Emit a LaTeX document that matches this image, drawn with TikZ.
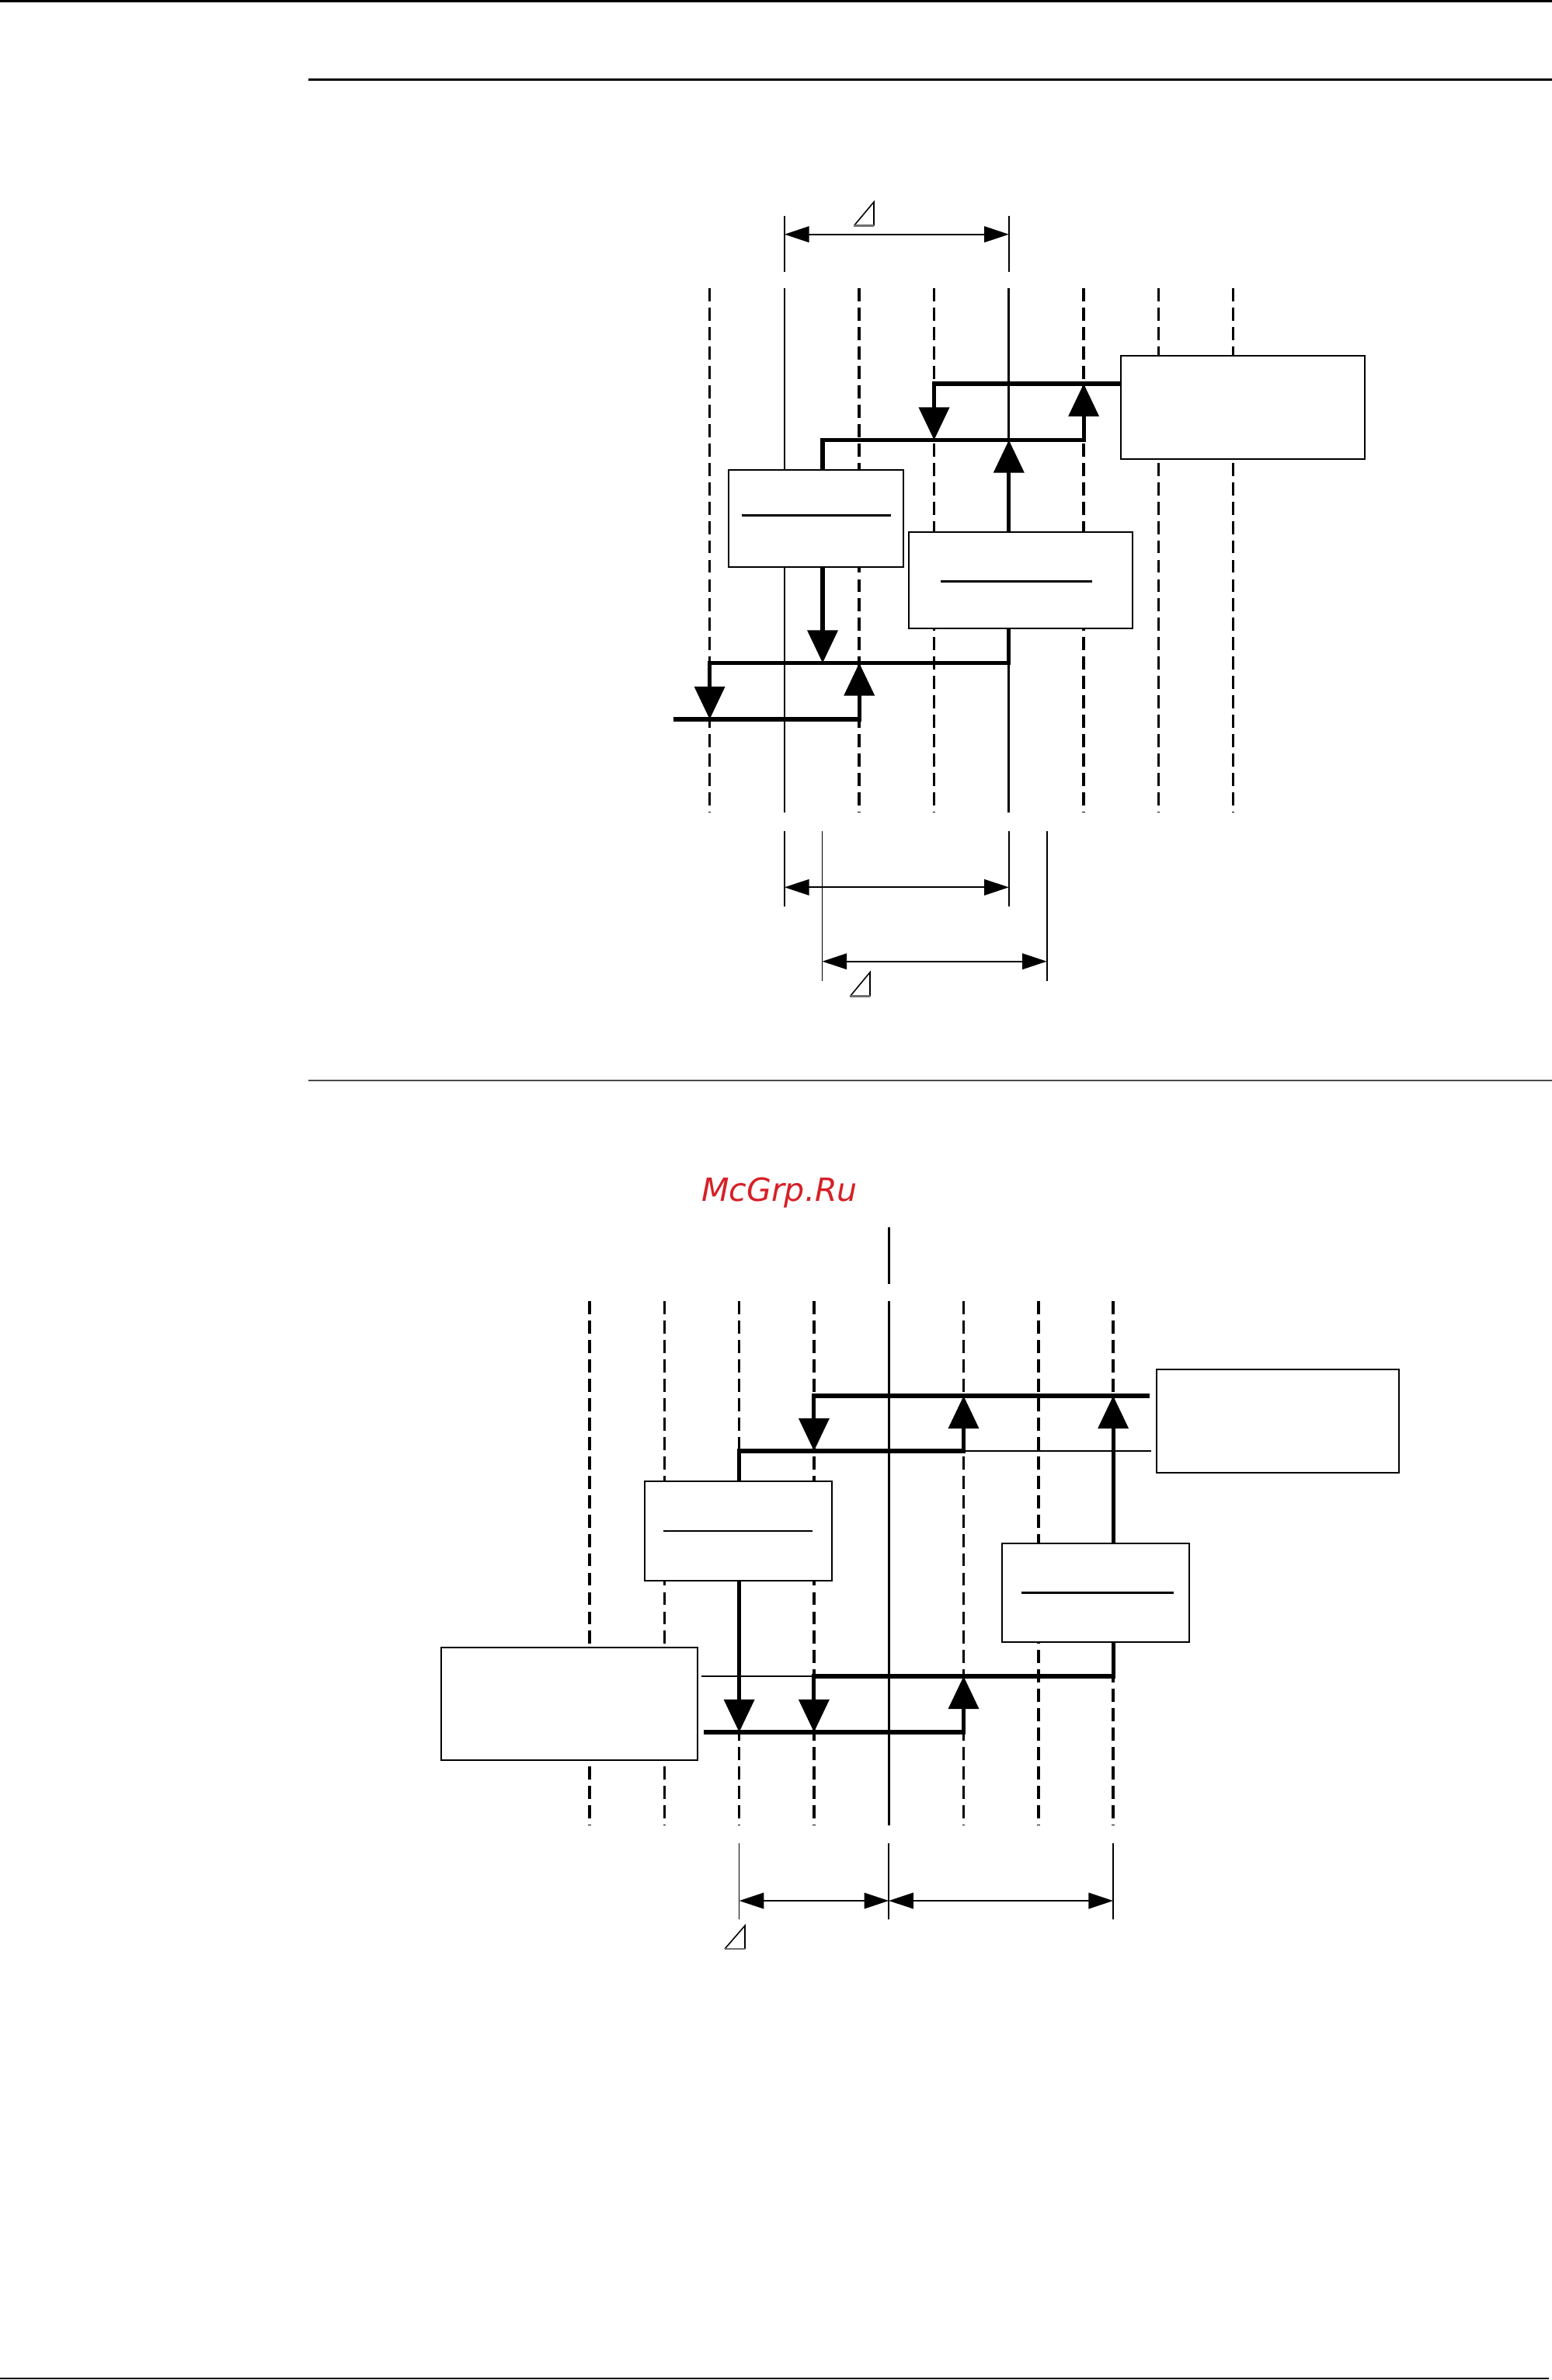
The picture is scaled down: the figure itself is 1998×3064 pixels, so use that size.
\documentclass[tikz,border=0pt]{standalone}
\usepackage{fontspec}
\usepackage{tikz}
\usetikzlibrary{arrows.meta,calc}
\newfontfamily\wmfont{DejaVu Sans}
\definecolor{wmred}{HTML}{D62027}
\definecolor{rulegray}{HTML}{4A4A4A}
\definecolor{wedgegray}{HTML}{6E6E6E}

\begin{document}
\begin{tikzpicture}[x=0.01cm,y=-0.01cm,
  every node/.style={inner sep=0pt,outer sep=0pt},
  box/.style={rectangle,draw=black,line width=0.75pt,fill=white},
  lane/.style={line width=1pt,dash pattern=on 4.8pt off 2.3pt},
  refline/.style={line width=0.8pt},
  bus/.style={line width=1.45pt},
  arrow/.style={bus,-{Triangle[length=12pt,width=11pt]}},
  tap/.style={line width=0.65pt},
  divider/.style={line width=0.65pt},
  dimline/.style={line width=0.6pt,{Triangle[length=9pt,width=5.8pt]}-{Triangle[length=9pt,width=5.8pt]}},
  extline/.style={line width=0.5pt},
  wedge/.style={line width=0.45pt,line join=miter},
  wedgebase/.style={line width=0.8pt,wedgegray}
]
\useasboundingbox (0,0) rectangle (1998,3064);

\draw[line width=1.1pt] (0,1.5) -- (1998,1.5);
\draw[line width=0.75pt] (397,102.5) -- (1998,102.5);
\draw[line width=0.5pt,rulegray] (397,1390.7) -- (1998,1390.7);
\draw[line width=0.8pt] (0,3062) -- (1994,3062);

\coordinate (L0) at (913.6,371);
\coordinate (L1) at (1009.9,371);
\coordinate (L2) at (1106.2,371);
\coordinate (L3) at (1202.5,371);
\coordinate (L4) at (1298.8,371);
\coordinate (L5) at (1395.1,371);
\coordinate (L6) at (1491.4,371);
\coordinate (L7) at (1587.7,371);

\draw[lane] (L0) -- ++(0,675);
\draw[refline] (L1) -- ++(0,675);
\draw[lane] (L2) -- ++(0,675);
\draw[lane] (L3) -- ++(0,675);
\draw[refline] (L4) -- ++(0,675);
\draw[lane] (L5) -- ++(0,675);
\draw[lane] (L6) -- ++(0,675);
\draw[lane] (L7) -- ++(0,675);

\node[box,minimum width=3.14cm,minimum height=1.33cm] (qbox) at (1600,524.5) {};
\node[box,minimum width=2.25cm,minimum height=1.25cm] (abox) at (1050.5,667.5) {};
\node[box,minimum width=2.88cm,minimum height=1.24cm] (bbox) at (1314,747) {};
\draw[divider] ($(abox.west)+(17,-4)$) -- ($(abox.east)+(-16,-4)$);
\draw[divider] ($(bbox.west)+(41,1.5)$) -- ($(bbox.east)+(-52,1.5)$);

\coordinate (busA) at (0,494);
\coordinate (busB) at (0,566.5);
\coordinate (busC) at (0,853.5);
\coordinate (busE) at (0,926);
\coordinate (aout) at ($(abox.north)+(8.5,0)$);
\coordinate (ain) at ($(abox.south)+(8.5,0)$);
\coordinate (ein) at (867,926);

\draw[arrow] (qbox.west |- busA) -| (L3 |- busB);
\draw[arrow] (aout) |- (L5 |- busB) -- (L5 |- busA);
\draw[arrow] (L4 |- bbox.north) -- (L4 |- busB);
\draw[arrow] (ain) -- (ain |- busC);
\draw[arrow] (L4 |- bbox.south) |- (L0 |- busC) -- (L0 |- busE);
\draw[arrow] (ein) -| (L2 |- busC);

\draw[extline] (1009.9,278) -- (1009.9,350.5);
\draw[extline] (1298.8,278) -- (1298.8,350.5);
\coordinate (tdl) at (1009.9,301.7);
\coordinate (tdr) at (1298.8,301.7);
\draw[dimline] (tdl) -- (tdr);
\draw[wedge] (1099.3,290.7) -- (1125,260) -- (1125,290.7);
\draw[wedgebase] (1099.3,290.7) -- (1125,290.7);

\draw[extline] (1009.9,1070) -- (1009.9,1166.7);
\draw[extline] (1298.8,1070) -- (1298.8,1166.7);
\draw[extline] (1058.5,1070) -- (1058.5,1263);
\draw[extline] (1347.7,1070) -- (1347.7,1263);
\coordinate (sdl) at (1009.9,1142.3);
\coordinate (sdr) at (1298.8,1142.3);
\coordinate (hdl) at (1058.5,1237.7);
\coordinate (hdr) at (1347.7,1237.7);
\draw[dimline] (sdl) -- (sdr);
\draw[dimline] (hdl) -- (hdr);
\draw[wedge] (1094.3,1282.7) -- (1120,1251.7) -- (1120,1282.7);
\draw[wedgebase] (1094.3,1282.7) -- (1120,1282.7);

\node[anchor=base west,text=wmred,font=\wmfont\itshape\fontsize{11.7}{13}\selectfont] (wm) at (903,1546.7) {McGrp.Ru};

\coordinate (K0) at (759,1675);
\coordinate (K1) at (855.3,1675);
\coordinate (K2) at (951.6,1675);
\coordinate (K3) at (1047.9,1675);
\coordinate (K4) at (1144.2,1675);
\coordinate (K5) at (1240.5,1675);
\coordinate (K6) at (1336.8,1675);
\coordinate (K7) at (1433.1,1675);

\draw[refline] (1144.2,1580) -- (1144.2,1653);
\draw[lane] (K0) -- ++(0,675);
\draw[lane] (K1) -- ++(0,675);
\draw[lane] (K2) -- ++(0,675);
\draw[lane] (K3) -- ++(0,675);
\draw[refline] (K4) -- ++(0,675);
\draw[lane] (K5) -- ++(0,675);
\draw[lane] (K6) -- ++(0,675);
\draw[lane] (K7) -- ++(0,675);

\node[box,minimum width=3.12cm,minimum height=1.33cm] (rbox) at (1645,1829.5) {};
\node[box,minimum width=2.41cm,minimum height=1.28cm] (cbox) at (950.5,1971) {};
\node[box,minimum width=2.41cm,minimum height=1.27cm] (dbox) at (1410.5,2050.5) {};
\node[box,minimum width=3.30cm,minimum height=1.45cm] (ebox) at (733,2193.5) {};
\draw[divider] ($(cbox.west)+(24,0)$) -- ($(cbox.east)+(-25,0)$);
\draw[divider] ($(dbox.west)+(25,0)$) -- ($(dbox.east)+(-20,0)$);

\coordinate (busF) at (0,1797);
\coordinate (busG) at (0,1868);
\coordinate (busH) at (0,2158);
\coordinate (busI) at (0,2230);
\coordinate (fin) at (1480,1797);
\coordinate (gout) at (1482,1868);
\coordinate (hin) at (903,2158);
\coordinate (iin) at (906,2230);

\draw[arrow] (fin) -| (K3 |- busG);
\draw[arrow] (K7 |- dbox.north) -- (K7 |- busF);
\draw[arrow] (K2 |- cbox.north) |- (K5 |- busG) -- (K5 |- busF);
\draw[tap] (K5 |- busG) -- (gout);
\draw[arrow] (K2 |- cbox.south) -- (K2 |- busI);
\draw[arrow] (K7 |- dbox.south) |- (K3 |- busH) -- (K3 |- busI);
\draw[tap] (hin) -- (K3 |- busH);
\draw[arrow] (iin) -| (K5 |- busH);

\draw[extline] (951.6,2373) -- (951.6,2471);
\draw[extline] (1144.2,2373) -- (1144.2,2471);
\draw[extline] (1433.1,2373) -- (1433.1,2471);
\coordinate (bdl) at (951.6,2447);
\coordinate (bdm) at (1144.2,2447);
\coordinate (bdr) at (1433.1,2447);
\draw[dimline] (bdl) -- (bdm);
\draw[dimline] (bdm) -- (bdr);
\draw[wedge] (933,2509) -- (959,2479) -- (959,2509);
\draw[wedgebase] (933,2509) -- (959,2509);
\end{tikzpicture}
\end{document}
